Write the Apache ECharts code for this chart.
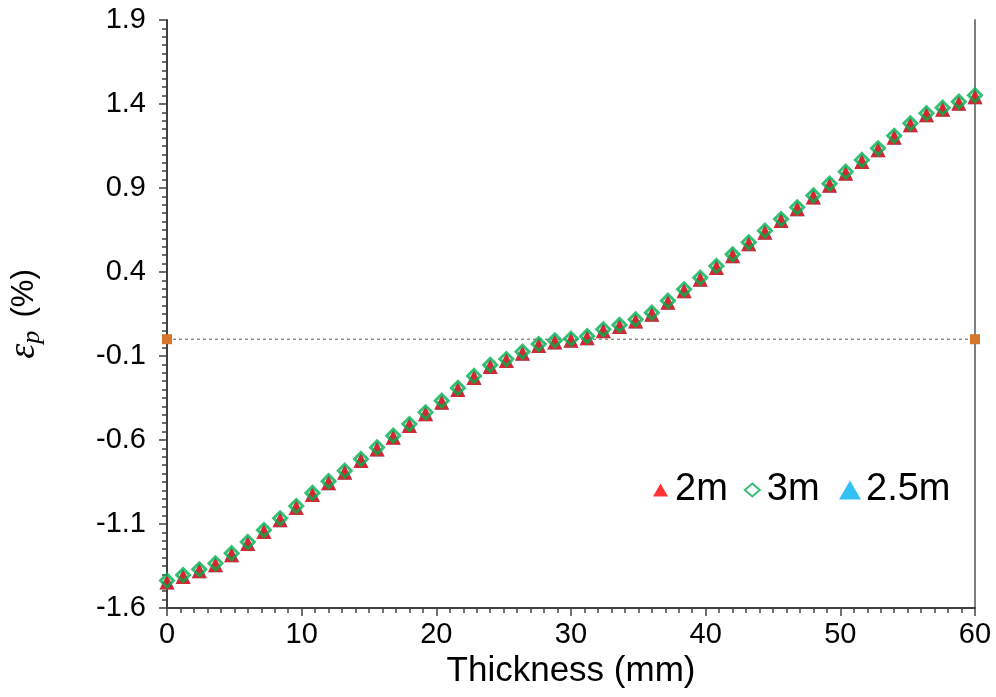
<!DOCTYPE html>
<html>
<head>
<meta charset="utf-8">
<script src="https://cdn.jsdelivr.net/npm/echarts@6/dist/echarts.min.js"></script>
<style>html,body{margin:0;padding:0;background:#fff;}#c{width:996px;height:697px;}</style>
</head>
<body>
<div id="c"></div>
<script>
// Thickness positions (mm)
const thickness = [0,1.2,2.4,3.6,4.8,6,7.2,8.4,9.6,10.8,12,13.2,14.4,15.6,16.8,18,19.2,20.4,21.6,22.8,24,25.2,26.4,27.6,28.8,30,31.2,32.4,33.6,34.8,36,37.2,38.4,39.6,40.8,42,43.2,44.4,45.6,46.8,48,49.2,50.4,51.6,52.8,54,55.2,56.4,57.6,58.8,60];
// strain (%) series
const ep2m = [-1.437,-1.404,-1.370,-1.334,-1.274,-1.207,-1.136,-1.066,-0.993,-0.915,-0.845,-0.783,-0.713,-0.644,-0.574,-0.505,-0.435,-0.366,-0.290,-0.219,-0.153,-0.118,-0.074,-0.029,-0.007,0.003,0.018,0.059,0.085,0.118,0.158,0.229,0.297,0.366,0.436,0.505,0.577,0.646,0.715,0.785,0.856,0.926,0.997,1.067,1.136,1.211,1.285,1.345,1.378,1.414,1.452];
const ep3m = [-1.437,-1.404,-1.370,-1.334,-1.274,-1.207,-1.136,-1.066,-0.993,-0.915,-0.845,-0.783,-0.713,-0.644,-0.574,-0.505,-0.435,-0.366,-0.290,-0.219,-0.153,-0.118,-0.074,-0.029,-0.007,0.003,0.018,0.059,0.085,0.118,0.158,0.229,0.297,0.366,0.436,0.505,0.577,0.646,0.715,0.785,0.856,0.926,0.997,1.067,1.136,1.211,1.285,1.345,1.378,1.414,1.452];
const ep25m = [-1.437,-1.404,-1.370,-1.334,-1.274,-1.207,-1.136,-1.066,-0.993,-0.915,-0.845,-0.783,-0.713,-0.644,-0.574,-0.505,-0.435,-0.366,-0.290,-0.219,-0.153,-0.118,-0.074,-0.029,-0.007,0.003,0.018,0.059,0.085,0.118,0.158,0.229,0.297,0.366,0.436,0.505,0.577,0.646,0.715,0.785,0.856,0.926,0.997,1.067,1.136,1.211,1.285,1.345,1.378,1.414,1.452];
// zero reference line
const zeroX = [0, 60];
const zeroY = [0, 0];
const seriesNames = ['2m', '3m', '2.5m'];

const pairs = (xs, ys) => xs.map((x, i) => [x, ys[i]]);
const FONT = 'Liberation Sans';

const chart = echarts.init(document.getElementById('c'), null, {renderer: 'canvas'});
chart.setOption({
  animation: false,
  backgroundColor: '#ffffff',
  grid: {left: 167, right: 21, top: 20, bottom: 89, containLabel: false, outerBoundsMode: 'none'},
  xAxis: {
    type: 'value', min: 0, max: 60, interval: 10,
    name: 'Thickness (mm)', nameLocation: 'middle', nameGap: 42,
    nameTextStyle: {fontFamily: FONT, fontSize: 35, color: '#000'},
    axisLine: {onZero: false, lineStyle: {color: '#404040', width: 2}},
    axisTick: {show: true, inside: false, length: 8, lineStyle: {color: '#404040', width: 1.5}},
    minorTick: {show: true, splitNumber: 10, length: 5, lineStyle: {color: '#404040', width: 1.5}},
    axisLabel: {fontFamily: FONT, fontSize: 29, color: '#000', margin: 12},
    splitLine: {show: false}
  },
  yAxis: [{
    type: 'value', min: -1.6, max: 1.9, interval: 0.5,
    name: '{e|ε}{p|p}    {t|(%)}', nameLocation: 'middle', nameGap: 122, nameRotate: 90,
    nameTextStyle: {
      color: '#000',
      rich: {
        e: {fontFamily: 'Liberation Serif', fontStyle: 'italic', fontSize: 38, color: '#000'},
        p: {fontFamily: 'Liberation Serif', fontStyle: 'italic', fontSize: 26, color: '#000', padding: [16, 0, 0, 0]},
        t: {fontFamily: FONT, fontSize: 31, color: '#000'}
      }
    },
    axisLine: {show: true, onZero: false, lineStyle: {color: '#404040', width: 2}},
    axisTick: {show: true, inside: false, length: 8, lineStyle: {color: '#404040', width: 1.5}},
    minorTick: {show: true, splitNumber: 10, length: 5, lineStyle: {color: '#404040', width: 1.5}},
    axisLabel: {fontFamily: FONT, fontSize: 29, color: '#000', margin: 21,
      formatter: v => (Math.abs(v) < 1e-9 ? 0 : v).toFixed(1)},
    splitLine: {show: false}
  }, {
    type: 'value', min: -1.6, max: 1.9, interval: 0.5, position: 'right',
    axisLine: {show: true, onZero: false, lineStyle: {color: '#7f7f7f', width: 2}},
    axisTick: {show: false}, axisLabel: {show: false}, splitLine: {show: false}
  }],
  legend: [{
    data: [seriesNames[0], seriesNames[1]],
    left: 648, top: 466, orient: 'horizontal',
    itemWidth: 15, itemHeight: 13, itemGap: 16,
    textStyle: {fontFamily: FONT, fontSize: 38, color: '#000', padding: [0, 0, 0, 2]}
  }, {
    data: [seriesNames[2]],
    left: 834, top: 466,
    itemWidth: 22, itemHeight: 19,
    textStyle: {fontFamily: FONT, fontSize: 38, color: '#000', padding: [0, 0, 0, 0]}
  }],
  series: [
    {
      name: 'zero', type: 'line', data: pairs(zeroX, zeroY),
      symbol: 'rect', symbolSize: 10, showSymbol: true,
      itemStyle: {color: '#d8762b'},
      lineStyle: {color: '#595959', width: 1, type: [3, 3]},
      silent: true, z: 1
    },
    {
      name: seriesNames[2], type: 'scatter', data: pairs(thickness, ep25m),
      symbol: 'triangle', symbolSize: [15, 15], symbolOffset: [0, 1.5],
      itemStyle: {color: '#00b0f0'}, z: 2
    },
    {
      name: seriesNames[0], type: 'scatter', data: pairs(thickness, ep2m),
      symbol: 'triangle', symbolSize: [15, 15], symbolOffset: [0, 1.5],
      itemStyle: {color: '#ff0000'}, z: 3
    },
    {
      name: seriesNames[1], type: 'scatter', data: pairs(thickness, ep3m),
      symbol: 'diamond', symbolSize: 13,
      itemStyle: {color: 'rgba(255,255,255,0)', borderColor: '#00b050', borderWidth: 3}, z: 4
    }
  ]
});
</script>
</body>
</html>
